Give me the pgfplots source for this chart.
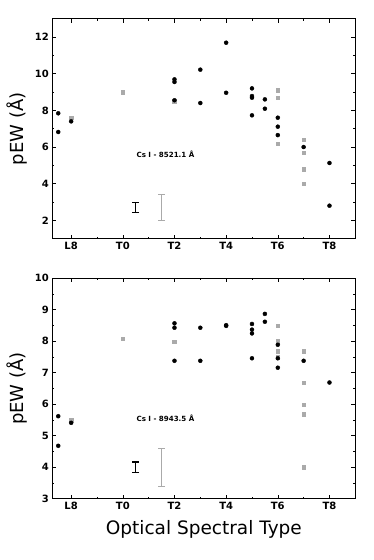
\documentclass[border=0pt]{standalone}
\usepackage{fontspec}
\setmainfont{DejaVu Sans}
\usepackage{pgfplots}
\pgfplotsset{compat=1.18}

\definecolor{ltgray}{HTML}{AAAAAA}

\tikzset{ann/.style={font=\bfseries\fontsize{7.1}{8}\selectfont}}

\pgfplotsset{
  ewpanel/.style={
    scale only axis,
    width=303pt,
    xmin=-2.73, xmax=9,
    axis line style={line width=1.3pt},
    tick align=inside,
    tick pos=both,
    major tick length=4pt,
    minor tick length=2pt,
    every tick/.style={black, line width=0.6pt},
    xtick={-2,0,2,4,6,8},
    xticklabels={L8,T0,T2,T4,T6,T8},
    minor x tick num=1,
    minor y tick num=1,
    tick label style={font=\bfseries\fontsize{10}{12}\selectfont},
    ylabel={pEW (Å)},
    ylabel style={font=\fontsize{18}{20}\selectfont, anchor=center, at={(axis description cs:-0.115,0.5)}},
    clip=false,
  },
  blk/.style={only marks, mark=*, mark size=2pt, black},
  gry/.style={only marks, mark=square*, mark size=1.8pt, ltgray, mark options={draw=ltgray, fill=ltgray}},
}

\begin{document}
\begin{tikzpicture}
\path[use as bounding box] (0pt,0pt) rectangle (374pt,560pt);

% upper panel: Cs I 8521.1
\begin{axis}[ewpanel,
  at={(52.3pt,321.3pt)}, anchor=south west,
  height=220pt,
  ymin=1, ymax=13,
  ytick={2,4,6,8,10,12},
  yticklabels={2,4,6,8,10,12},
]
\addplot[gry] coordinates {
  (-2,7.6) (0,9.0) (2,8.5) (6,9.11) (6,8.69) (6,6.18)
  (7,6.4) (7,5.69) (7,4.8) (7,4.0)
};
\addplot[blk] coordinates {
  (-2.5,7.84) (-2.5,6.82) (-2,7.4)
  (2,9.69) (2,9.55) (2,8.55)
  (3,10.22) (3,8.4)
  (4,11.69) (4,8.96)
  (5,9.2) (5,8.78) (5,8.69) (5,7.73)
  (5.5,8.6) (5.5,8.09)
  (6,7.6) (6,7.11) (6,6.65)
  (7,6.0)
  (8,5.13) (8,2.8)
};
\addplot[black, mark=none, draw=none,
  error bars/.cd, y dir=both, y explicit,
  error bar style={line width=1.4pt, black},
  error mark options={rotate=90, mark size=3.3pt, line width=1.4pt, black}]
  coordinates {(0.5,2.69) +- (0,0.27)};
\addplot[ltgray, mark=none, draw=none,
  error bars/.cd, y dir=both, y explicit,
  error bar style={line width=1.3pt, ltgray},
  error mark options={rotate=90, mark size=3.5pt, line width=1.3pt, ltgray}]
  coordinates {(1.5,2.7) +- (0,0.7)};
\node[ann] at (axis cs:1.65,5.6) {Cs I - 8521.1 Å};
\end{axis}

% lower panel: Cs I 8943.5
\begin{axis}[ewpanel,
  at={(52.3pt,61.3pt)}, anchor=south west,
  height=220.4pt,
  ymin=3, ymax=10,
  ytick={3,4,5,6,7,8,9,10},
  yticklabels={3,4,5,6,7,8,9,10},
  xlabel={Optical Spectral Type},
  xlabel style={font=\fontsize{18.5}{21}\selectfont, anchor=center, at={(axis description cs:0.5,-0.14)}},
]
\addplot[gry] coordinates {
  (-2,5.5) (0,8.08) (2,7.99)
  (6,8.49) (6,8.0) (6,7.69) (6,7.49)
  (7,7.69) (7,6.69) (7,5.99) (7,5.69) (7,4.0)
};
\addplot[blk] coordinates {
  (-2.5,5.62) (-2.5,4.68) (-2,5.41)
  (2,8.57) (2,8.43) (2,7.38)
  (3,8.43) (3,7.38)
  (4,8.51) (4,8.49)
  (5,8.55) (5,8.37) (5,8.25) (5,7.46)
  (5.5,8.87) (5.5,8.62)
  (6,7.89) (6,7.46) (6,7.16)
  (7,7.38)
  (8,6.69)
};
\addplot[black, mark=none, draw=none,
  error bars/.cd, y dir=both, y explicit,
  error bar style={line width=1.4pt, black},
  error mark options={rotate=90, mark size=3.3pt, line width=1.4pt, black}]
  coordinates {(0.5,4.0) +- (0,0.17)};
\addplot[ltgray, mark=none, draw=none,
  error bars/.cd, y dir=both, y explicit,
  error bar style={line width=1.3pt, ltgray},
  error mark options={rotate=90, mark size=3.5pt, line width=1.3pt, ltgray}]
  coordinates {(1.5,3.99) +- (0,0.6)};
\node[ann] at (axis cs:1.65,5.56) {Cs I - 8943.5 Å};
\end{axis}
\end{tikzpicture}
\end{document}
